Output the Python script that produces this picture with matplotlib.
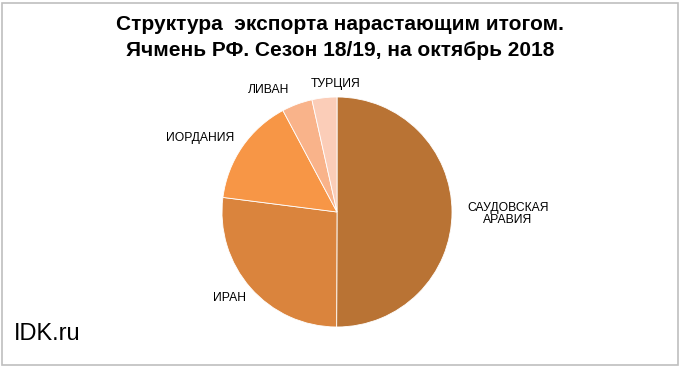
import matplotlib
import matplotlib.pyplot as plt
from matplotlib.patches import Rectangle

matplotlib.use("Agg")

# Export shares, %
countries = ["САУДОВСКАЯ\nАРАВИЯ", "ИРАН", "ИОРДАНИЯ", "ЛИВАН", "ТУРЦИЯ"]
shares = [50.1, 27.0, 15.2, 4.3, 3.5]
colors = ["#B97334", "#DA843D", "#F79646", "#F9B38A", "#FBCDB8"]

# label centres in pixels (x, y from top)
label_pos = [(508, 214), (230, 298), (200, 138), (269, 90), (336, 84)]

W, H = 680, 367
fig = plt.figure(figsize=(W / 100, H / 100), dpi=100)
fig.patch.set_facecolor("white")
fig.patches.append(Rectangle((1.5 / W, 2.5 / H), (W - 4) / W, (H - 5) / H,
                             transform=fig.transFigure, fill=False,
                             edgecolor="#BFBFBF", linewidth=1.2))

cx, cy, r = 337, 212, 115
ax = fig.add_axes([(cx - r) / W, 1 - (cy + r) / H, 2 * r / W, 2 * r / H])
ax.pie(shares, colors=colors, startangle=90, counterclock=False,
       wedgeprops={"edgecolor": "white", "linewidth": 0.6})
ax.set_xlim(-1, 1)
ax.set_ylim(-1, 1)
ax.set_aspect("equal")

font = ["Liberation Sans", "DejaVu Sans"]
for name, (x, y) in zip(countries, label_pos):
    fig.text(x / W, 1 - y / H, name, ha="center", va="center",
             fontsize=8.7, family=font, linespacing=1.1)

fig.text(340 / W, 1 - 24 / H, "Структура  экспорта нарастающим итогом.",
         ha="center", va="center", fontsize=15, fontweight="bold", family=font)
fig.text(340 / W, 1 - 50 / H, "Ячмень РФ. Сезон 18/19, на октябрь 2018",
         ha="center", va="center", fontsize=15, fontweight="bold", family=font)

fig.text(14 / W, 1 - 334 / H, "IDK.ru", ha="left", va="center",
         fontsize=17, family=font)

fig.savefig("out.png", dpi=100)
plt.close(fig)
